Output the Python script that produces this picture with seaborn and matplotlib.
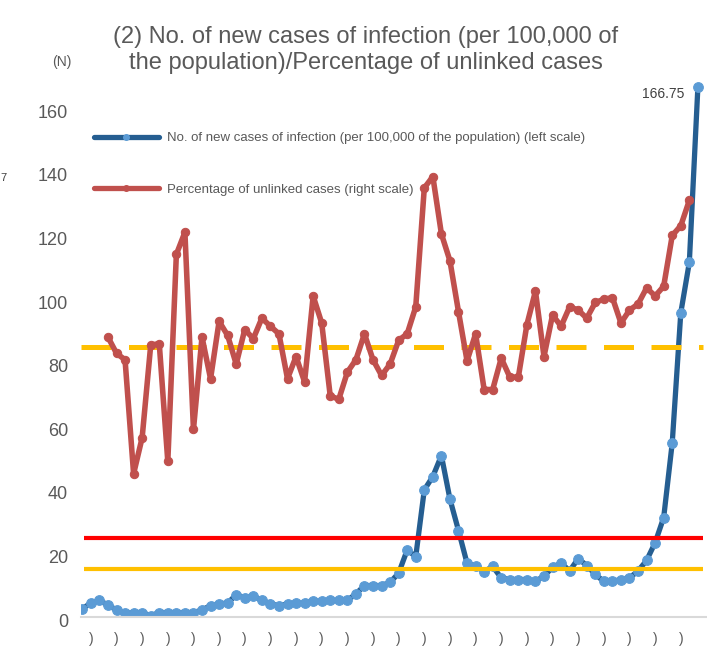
import pandas as pd
import seaborn as sns
import matplotlib.pyplot as plt
import matplotlib.transforms as mtransforms
from matplotlib.lines import Line2D

# ---------------------------------------------------------------------------
# Data
# ---------------------------------------------------------------------------
# New cases of infection per 100,000 of the population (left scale)
new_cases = [2.6, 4.4, 5.2, 3.8, 2.2, 1.2, 1.4, 1.4, 0.4, 1.4,
             1.4, 1.4, 1.4, 1.4, 2.2, 3.6, 4.1, 4.4, 7.0, 6.1,
             6.6, 5.2, 4.1, 3.6, 4.1, 4.4, 4.4, 5.1, 4.9, 5.2,
             5.2, 5.2, 7.3, 9.9, 9.9, 9.9, 10.9, 13.8, 21.1, 19.0,
             40.0, 44.2, 50.8, 37.1, 27.2, 16.9, 16.1, 14.3, 15.9, 12.3,
             11.8, 11.8, 11.8, 11.2, 12.9, 15.6, 17.0, 14.5, 18.4, 16.2,
             13.4, 11.2, 11.2, 11.8, 12.3, 14.5, 17.8, 23.4, 31.3, 54.8,
             95.7, 111.6, 166.75]

# Percentage of unlinked cases (right scale), starts at the 4th period
unlinked_start = 3
unlinked_pct = [51.8, 48.8, 47.6, 26.5, 33.2, 50.3, 50.6, 28.8, 67.1, 71.2,
                34.7, 51.8, 44.1, 54.7, 52.1, 46.8, 53.2, 51.5, 55.3, 53.8,
                52.4, 44.1, 48.2, 43.5, 59.4, 54.4, 40.9, 40.3, 45.3, 47.6,
                52.4, 47.6, 44.7, 46.8, 51.2, 52.4, 57.4, 79.4, 81.5, 70.9,
                65.9, 56.5, 47.4, 52.4, 42.1, 42.1, 47.9, 44.4, 44.4, 54.1,
                60.3, 48.2, 55.9, 53.8, 57.4, 56.8, 55.3, 58.2, 58.8, 59.1,
                54.4, 56.8, 57.9, 60.9, 59.4, 61.2, 70.6, 72.4, 77.1]

# Reference levels
level_yellow = 15      # new cases, left scale
level_red = 25         # new cases, left scale
level_unlinked = 50    # unlinked %, right scale

y_ticks = [0, 20, 40, 60, 80, 100, 120, 140, 160]
x_tick_pos = list(range(1, 71, 3))
x_tick_text = ")"

title = ("(2) No. of new cases of infection (per 100,000 of\n"
         "the population)/Percentage of unlinked cases")
label_cases = ("No. of new cases of infection (per 100,000 of the population) "
               "(left scale)")
label_unlinked = "Percentage of unlinked cases (right scale)"

df_cases = pd.DataFrame({"period": range(len(new_cases)), "value": new_cases})
df_unlinked = pd.DataFrame({
    "period": range(unlinked_start, unlinked_start + len(unlinked_pct)),
    "pct": unlinked_pct,
})

# ---------------------------------------------------------------------------
# Style
# ---------------------------------------------------------------------------
sns.set_style("white")
plt.rcParams["font.family"] = ["Liberation Sans", "DejaVu Sans"]

BLUE_LINE = "#255E91"
BLUE_DOT = "#5B9BD5"
RED_LINE = "#C0504D"
GREY_TEXT = "#595959"

fig = plt.figure(figsize=(7.07, 6.48), dpi=100)
ax = fig.add_axes([0.114, 0.0478, 0.884, 0.834])

# blue series (left scale)
sns.lineplot(data=df_cases, x="period", y="value", ax=ax, color=BLUE_LINE,
             linewidth=3.8, marker="o", markersize=7,
             markerfacecolor=BLUE_DOT, markeredgecolor=BLUE_DOT, zorder=2)

ax.hlines(level_red, 0.2, 72.6, color="#FF0000", linewidth=3.0, zorder=3)
ax.hlines(level_yellow, 0.2, 72.6, color="#FFC000", linewidth=3.0, zorder=3)

ax.set_xlim(-0.2, 72.9)
ax.set_ylim(0, 170)
ax.set_yticks(y_ticks)
ax.set_xticks(x_tick_pos)
ax.set_xticklabels([x_tick_text] * len(x_tick_pos))
ax.tick_params(axis="y", length=0, pad=9, labelsize=13, labelcolor=GREY_TEXT)
ax.tick_params(axis="x", length=0, pad=11, labelsize=10, labelcolor=GREY_TEXT)
shift = mtransforms.ScaledTranslation(0, -3 / 100, fig.dpi_scale_trans)
for lab in ax.get_yticklabels():
    lab.set_transform(lab.get_transform() + shift)
ax.set_xlabel("")
ax.set_ylabel("")
for side in ["top", "right", "left"]:
    ax.spines[side].set_visible(False)
ax.spines["bottom"].set_color("#D9D9D9")
ax.spines["bottom"].set_linewidth(1.5)

# red series (right scale, axis itself is cut off in the reference)
ax2 = ax.twinx()
ax2.hlines(level_unlinked, -0.2, 72.6, color="#FFC000", linewidth=3.6,
           linestyles=(0, (6, 3.5)), zorder=1)
sns.lineplot(data=df_unlinked, x="period", y="pct", ax=ax2, color=RED_LINE,
             linewidth=4.0, marker="o", markersize=6,
             markerfacecolor=RED_LINE, markeredgecolor=RED_LINE, zorder=2)
ax2.set_ylim(0, 100)
ax2.set_yticks([])
ax2.set_ylabel("")
for side in ["top", "right", "left", "bottom"]:
    ax2.spines[side].set_visible(False)

# last value label
ax.annotate(f"{new_cases[-1]:.2f}", xy=(len(new_cases) - 1, new_cases[-1]),
            xytext=(-10, -5), textcoords="offset points", ha="right",
            va="center", fontsize=10, color="#404040")

# legend
handles = [
    Line2D([], [], color=BLUE_LINE, linewidth=3.8, marker="o", markersize=4,
           markerfacecolor=BLUE_DOT, markeredgecolor=BLUE_DOT),
    Line2D([], [], color=RED_LINE, linewidth=3.8, marker="o", markersize=4,
           markerfacecolor=RED_LINE, markeredgecolor=RED_LINE),
]
leg = fig.legend(handles, [label_cases, label_unlinked], loc="upper left",
                 bbox_to_anchor=(94 / 707, 1 - 132 / 648), frameon=False,
                 fontsize=9.5, handlelength=4.9, labelspacing=3.0,
                 handletextpad=0.6, borderpad=0, borderaxespad=0)
for t in leg.get_texts():
    t.set_color(GREY_TEXT)

# titles and the cut-off bits
fig.text(366 / 707, 1 - 50 / 648, title, ha="center", va="center",
         fontsize=17, color=GREY_TEXT, linespacing=1.2)
fig.text(62 / 707, 1 - 62 / 648, "(N)", ha="center", va="center",
         fontsize=10, color=GREY_TEXT)
fig.text(0.5 / 707, 1 - 178 / 648, "7", ha="left", va="center",
         fontsize=8, color="#404040")

plt.savefig("out.png", dpi=100)
